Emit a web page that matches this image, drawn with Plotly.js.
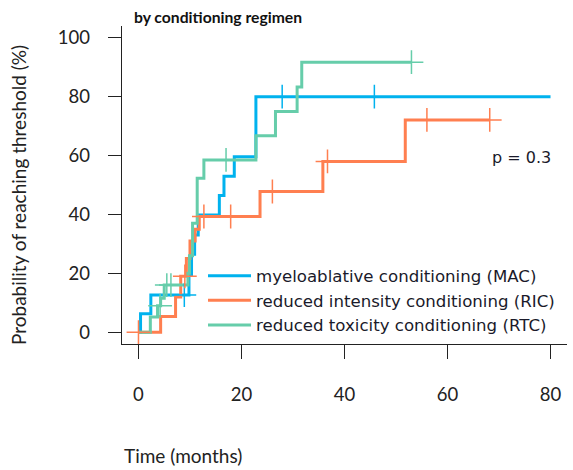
<!DOCTYPE html>
<html>
<head>
<meta charset="utf-8">
<script src="https://cdn.plot.ly/plotly-3.0.1.min.js"></script>
<style>html,body{margin:0;padding:0;background:#fff;}#chart{width:573px;height:470px;}</style>
</head>
<body>
<div id="chart"></div>
<script>
// Series names
const seriesNames = ["myeloablative conditioning (MAC)", "reduced intensity conditioning (RIC)", "reduced toxicity conditioning (RTC)"];
// MAC step curve
const macTime = [0, 0.4, 2.4, 9.8, 10.3, 10.9, 11.6, 15.7, 16.6, 18.6, 22.8, 80];
const macProb = [0, 6.3, 12.6, 19.5, 26.5, 33, 39.8, 46.4, 53, 59.6, 80, 80];
const macCensTime = [8.9, 27.9, 45.8];
const macCensProb = [12.6, 80, 80];
// RIC step curve
const ricTime = [0, 4.3, 7.2, 8.2, 9.3, 10, 11, 11.8, 23.6, 35.8, 51.8, 68.2];
const ricProb = [0, 5.3, 12, 19, 25, 31, 35, 39.3, 47.8, 58, 72.1, 72.1];
const ricCensTime = [0, 9, 12.7, 17.9, 26, 36.7, 56, 68.2];
const ricCensProb = [0, 19, 39.3, 39.3, 47.8, 58, 72.1, 72.1];
// RTC step curve
const rtcTime = [0, 2.3, 3.7, 4.3, 5, 9.6, 9.9, 10.5, 11.4, 12.7, 22.8, 26.6, 30.8, 31.7, 53];
const rtcProb = [0, 5.2, 9, 11.5, 16, 20, 26, 37, 52.3, 58.5, 66.7, 75, 83.3, 91.7, 91.7];
const rtcCensTime = [4.2, 5.5, 6.3, 17, 53];
const rtcCensProb = [9, 16, 16, 58.5, 91.7];
// Axis ticks
const xTicks = [0, 20, 40, 60, 80];
const yTicks = [0, 20, 40, 60, 80, 100];
const pText = "p = 0.3";

const colors = ["#00B2EE", "#FF7F50", "#66CDAA"];

function stepTrace(x, y, name, color) {
  return {x: x, y: y, name: name, type: "scatter", mode: "lines",
    line: {shape: "hv", color: color, width: 3}, hoverinfo: "skip"};
}
function censTrace(x, y, color) {
  return {x: x, y: y, type: "scatter", mode: "markers", showlegend: false,
    marker: {symbol: "cross-thin", size: 17, color: color, line: {color: color, width: 1.5}}, hoverinfo: "skip"};
}

const data = [
  stepTrace(macTime, macProb, seriesNames[0], colors[0]),
  stepTrace(ricTime, ricProb, seriesNames[1], colors[1]),
  stepTrace(rtcTime, rtcProb, seriesNames[2], colors[2]),
  censTrace(macCensTime, macCensProb, colors[0]),
  censTrace(ricCensTime, ricCensProb, colors[1]),
  censTrace(rtcCensTime, rtcCensProb, colors[2])
];

const tickFont = {family: "Lato, 'Open Sans', sans-serif", size: 18.5, color: "#222"};
const titleFont = {family: "Lato, 'Open Sans', sans-serif", size: 19, color: "#222"};

const layout = {
  width: 573, height: 470,
  margin: {l: 122, r: 6, t: 26, b: 126},
  paper_bgcolor: "#fff", plot_bgcolor: "#fff",
  showlegend: true,
  title: {text: "<b>by conditioning regimen</b>", x: 134/573, xanchor: "left", xref: "container",
    y: 1 - 18/470, yanchor: "middle", yref: "container",
    font: {family: "Lato, 'Open Sans', sans-serif", size: 15.7, color: "#111"}},
  xaxis: {range: [-3.2, 83.2], tickvals: xTicks, ticktext: xTicks.map(String),
    showgrid: false, zeroline: false, showline: true, linecolor: "#222", linewidth: 1.3,
    ticks: "outside", ticklen: 14, tickwidth: 1.3, tickcolor: "#222",
    ticklabelstandoff: 19, tickfont: tickFont, mirror: false},
  yaxis: {range: [-4, 104], tickvals: yTicks, ticktext: yTicks.map(String),
    showgrid: false, zeroline: false, showline: true, linecolor: "#222", linewidth: 1.3,
    ticks: "outside", ticklen: 13, tickwidth: 1.3, tickcolor: "#222",
    ticklabelstandoff: 14, tickfont: tickFont, mirror: false},
  legend: {x: (203-122)/445, y: (344-258.5)/318, xanchor: "left", yanchor: "top",
    itemwidth: 43,
    bgcolor: "rgba(0,0,0,0)", borderwidth: 0,
    font: {family: "'DejaVu Sans', sans-serif", size: 16.6, color: "#1a1a2a"}},
  annotations: [
    {text: "Time (months)", xref: "paper", yref: "paper", x: 0, y: 0, xanchor: "left", yanchor: "middle",
      yshift: -(455-344), showarrow: false, font: titleFont},
    {text: "Probability of reaching threshold (%)", xref: "paper", yref: "paper", x: 0, y: (344-195)/318,
      xanchor: "center", yanchor: "middle", xshift: 18-122, textangle: -90, showarrow: false,
      font: titleFont},
    {text: pText, xref: "x", yref: "y", x: 74.4, y: 59.5, xanchor: "center", yanchor: "middle",
      showarrow: false, font: {family: "'DejaVu Sans', sans-serif", size: 16, color: "#1a1a2a"}}
  ]
};

Plotly.newPlot("chart", data, layout, {displayModeBar: false, staticPlot: true});
</script>
</body>
</html>
